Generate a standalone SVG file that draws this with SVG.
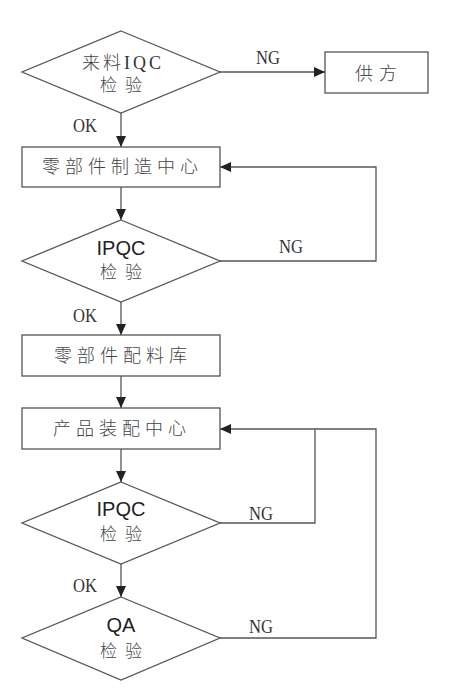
<svg xmlns="http://www.w3.org/2000/svg" width="453" height="699" viewBox="0 0 453 699">
<defs>
<marker id="ah" markerUnits="userSpaceOnUse" markerWidth="12" markerHeight="10" refX="11" refY="5" orient="auto">
<path d="M0,0 L11,5 L0,10 Z" fill="#222"/>
</marker>
<style>
.shape{fill:#fff;stroke:#555;stroke-width:1.3}
.conn{fill:none;stroke:#555;stroke-width:1.3}
.cn{font-family:"Noto Sans CJK SC","Noto Sans",sans-serif;font-size:18px;fill:#444;font-weight:300}
.cn2{font-family:"Noto Sans CJK SC","Noto Sans",sans-serif;font-size:17px;fill:#444;font-weight:300;letter-spacing:8px}
.lbl{font-family:"Liberation Serif",serif;font-size:18px;fill:#333}
.en{font-family:"Liberation Sans",Arial,sans-serif;font-size:20px;fill:#222;text-anchor:middle}
</style>
</defs>
<rect width="453" height="699" fill="#fff"/>
<g id="connectors">
<line class="conn" x1="220" y1="72" x2="325" y2="72" marker-end="url(#ah)"/>
<line class="conn" x1="121" y1="113" x2="121" y2="147" marker-end="url(#ah)"/>
<line class="conn" x1="121" y1="187" x2="121" y2="220" marker-end="url(#ah)"/>
<polyline class="conn" points="220,261 376,261 376,167 220,167" marker-end="url(#ah)"/>
<line class="conn" x1="121" y1="302" x2="121" y2="335" marker-end="url(#ah)"/>
<line class="conn" x1="121" y1="376" x2="121" y2="408" marker-end="url(#ah)"/>
<line class="conn" x1="121" y1="449" x2="121" y2="482" marker-end="url(#ah)"/>
<polyline class="conn" points="220,523 315,523 315,429"/>
<polyline class="conn" points="220,638 376,638 376,429 220,429" marker-end="url(#ah)"/>
<line class="conn" x1="121" y1="564" x2="121" y2="597" marker-end="url(#ah)"/>
<text class="lbl" x="256" y="64" textLength="24" lengthAdjust="spacingAndGlyphs">NG</text>
<text class="lbl" x="73" y="132" textLength="24" lengthAdjust="spacingAndGlyphs">OK</text>
<text class="lbl" x="279" y="253" textLength="24" lengthAdjust="spacingAndGlyphs">NG</text>
<text class="lbl" x="73" y="322" textLength="24" lengthAdjust="spacingAndGlyphs">OK</text>
<text class="lbl" x="249" y="520" textLength="24" lengthAdjust="spacingAndGlyphs">NG</text>
<text class="lbl" x="73" y="592" textLength="24" lengthAdjust="spacingAndGlyphs">OK</text>
<text class="lbl" x="249" y="633" textLength="24" lengthAdjust="spacingAndGlyphs">NG</text>
</g>
<g id="iqc">
<polygon class="shape" points="121,31 220,72 121,113 22,72"/>
<text x="82" y="69"><tspan class="cn" font-size="17" letter-spacing="3">来料</tspan><tspan font-family="Liberation Serif,serif" font-size="18" fill="#333" letter-spacing="3">IQC</tspan></text>
<text class="cn2" x="100" y="91">检验</text>
</g>
<g id="supplier">
<rect class="shape" x="325" y="52" width="103" height="41"/>
<text class="cn" x="355" y="80" letter-spacing="6">供方</text>
</g>
<g id="parts-mfg">
<rect class="shape" x="22" y="147" width="198" height="40"/>
<text class="cn" x="42" y="173" letter-spacing="5">零部件制造中心</text>
</g>
<g id="ipqc1">
<polygon class="shape" points="121,220 220,261 121,302 22,261"/>
<text class="en" x="121" y="255">IPQC</text>
<text class="cn2" x="100" y="278">检验</text>
</g>
<g id="parts-store">
<rect class="shape" x="22" y="335" width="198" height="41"/>
<text class="cn" x="54" y="362" letter-spacing="5">零部件配料库</text>
</g>
<g id="assembly">
<rect class="shape" x="22" y="408" width="198" height="41"/>
<text class="cn" x="53" y="435" letter-spacing="5">产品装配中心</text>
</g>
<g id="ipqc2">
<polygon class="shape" points="121,482 220,523 121,564 22,523"/>
<text class="en" x="121" y="516">IPQC</text>
<text class="cn2" x="100" y="540">检验</text>
</g>
<g id="qa">
<polygon class="shape" points="121,597 220,638 121,680 22,638"/>
<text class="en" x="121" y="632">QA</text>
<text class="cn2" x="100" y="657">检验</text>
</g>
</svg>
